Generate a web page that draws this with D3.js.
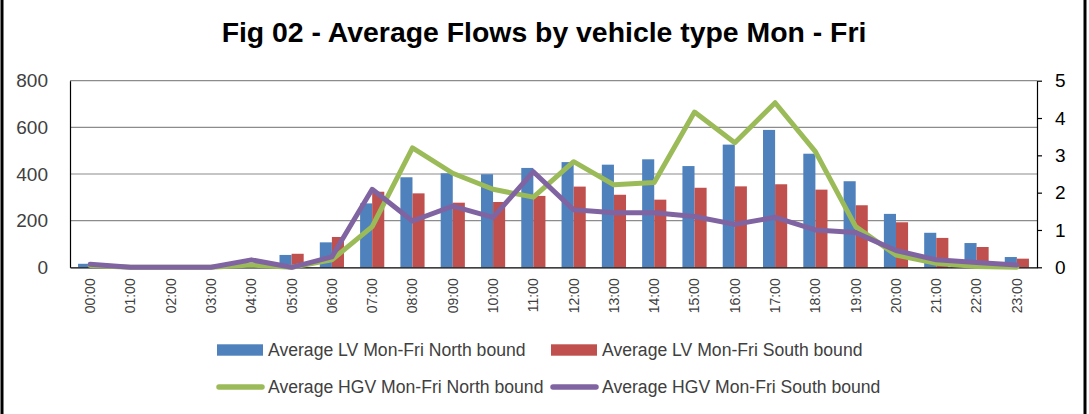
<!DOCTYPE html>
<html>
<head>
<meta charset="utf-8">
<script src="https://cdn.jsdelivr.net/npm/d3@7"></script>
<style>
  body { margin: 0; background: #fff; }
  svg { display: block; }
</style>
</head>
<body>
<div id="chart"></div>
<script>
// chart data
var hours = ["00:00","01:00","02:00","03:00","04:00","05:00","06:00","07:00","08:00","09:00","10:00","11:00",
             "12:00","13:00","14:00","15:00","16:00","17:00","18:00","19:00","20:00","21:00","22:00","23:00"];
var lvNorth = [15, 0, 0, 0, 3, 53, 107, 274, 386, 403, 399, 426, 451, 440, 463, 434, 526, 589, 487, 369, 229, 148, 104, 44];
var lvSouth = [4, 0, 0, 0, 2, 58, 130, 324, 317, 277, 280, 306, 346, 311, 290, 341, 347, 356, 333, 266, 193, 126, 87, 37];
var hgvNorth = [0.05, 0, 0, 0, 0.06, 0, 0.2, 1.09, 3.2, 2.52, 2.09, 1.88, 2.83, 2.21, 2.27, 4.16, 3.34, 4.41, 3.1, 1.09, 0.33, 0.11, 0.02, 0];
var hgvSouth = [0.08, 0, 0, 0, 0.2, 0, 0.28, 2.09, 1.24, 1.64, 1.34, 2.56, 1.54, 1.46, 1.46, 1.36, 1.15, 1.34, 1.0, 0.93, 0.45, 0.2, 0.13, 0.06];
var leftTicks = [0, 200, 400, 600, 800];
var rightTicks = [0, 1, 2, 3, 4, 5];
var seriesNames = ["Average LV Mon-Fri North bound", "Average LV Mon-Fri South bound",
                   "Average HGV Mon-Fri North bound", "Average HGV Mon-Fri South bound"];

var W = 1089, H = 414;
var plot = {left: 70, right: 1037, top: 80.7, bottom: 267.3};
var colors = ["#4F81BD", "#C0504D", "#9BBB59", "#8064A2"];
var font = "'Liberation Sans', Arial, sans-serif";
var textGrey = "#404040";

var svg = d3.select("#chart").append("svg")
    .attr("width", W)
    .attr("height", H);

// frame (only the side edges show in the picture)
svg.append("line").attr("x1", 2).attr("x2", 2).attr("y1", 0).attr("y2", H)
    .attr("stroke", "#000").attr("stroke-width", 3);
svg.append("line").attr("x1", 1085).attr("x2", 1085).attr("y1", 0).attr("y2", H)
    .attr("stroke", "#000").attr("stroke-width", 3);

// title
svg.append("text")
    .attr("x", 544)
    .attr("y", 42)
    .attr("text-anchor", "middle")
    .attr("font-family", font)
    .attr("font-weight", "bold")
    .attr("font-size", "28.4px")
    .attr("fill", "#000")
    .text("Fig 02 - Average Flows by vehicle type Mon - Fri");

// --- SCALES ---
var xScale = d3.scaleBand()
    .domain(hours)
    .range([plot.left, plot.right])
    .paddingInner(0.4)
    .paddingOuter(0.2);
var xInner = d3.scaleBand()
    .domain([0, 1])
    .range([0, xScale.bandwidth()]);
var yLeft = d3.scaleLinear().domain([0, 800]).range([plot.bottom, plot.top]);
var yRight = d3.scaleLinear().domain([0, 5]).range([plot.bottom, plot.top]);

// gridlines
svg.append("g")
    .selectAll("line")
    .data(leftTicks.filter(function(d){ return d > 0; }))
    .enter()
    .append("line")
    .attr("x1", plot.left)
    .attr("x2", plot.right)
    .attr("y1", function(d){ return yLeft(d); })
    .attr("y2", function(d){ return yLeft(d); })
    .attr("stroke", "#8c8c8c")
    .attr("stroke-width", 1.2);

// --- BARS ---
var bars = svg.append("g").attr("id", "bars");
[lvNorth, lvSouth].forEach(function(values, s){
    bars.append("g")
        .selectAll("rect")
        .data(values)
        .enter()
        .append("rect")
        .attr("x", function(d, i){ return xScale(hours[i]) + xInner(s); })
        .attr("width", xInner.bandwidth())
        .attr("y", function(d){ return yLeft(d); })
        .attr("height", function(d){ return plot.bottom - yLeft(d); })
        .attr("fill", colors[s]);
});

// --- AXES ---
var xAxis = svg.append("g")
    .attr("transform", "translate(0," + plot.bottom + ")")
    .call(d3.axisBottom(xScale).tickSize(0).tickPadding(0).tickSizeOuter(0));
xAxis.select(".domain").attr("stroke", "#000").attr("stroke-width", 1.2);
xAxis.selectAll("text")
    .attr("transform", "rotate(-90)")
    .attr("text-anchor", "end")
    .attr("x", -11)
    .attr("y", 0)
    .attr("dy", "0.35em")
    .attr("font-family", font)
    .attr("font-size", "14px")
    .attr("fill", textGrey);

var leftAxis = svg.append("g")
    .attr("transform", "translate(" + plot.left + ",0)")
    .call(d3.axisLeft(yLeft).tickValues(leftTicks).tickSize(0).tickPadding(22).tickSizeOuter(0));
leftAxis.select(".domain").attr("stroke", "#000").attr("stroke-width", 1.2);
leftAxis.selectAll("text")
    .attr("font-family", font)
    .attr("font-size", "19px")
    .attr("fill", textGrey);

var rightAxis = svg.append("g")
    .attr("transform", "translate(" + plot.right + ",0)")
    .call(d3.axisRight(yRight).tickValues(rightTicks).tickFormat(d3.format("d"))
        .tickSize(5).tickPadding(13).tickSizeOuter(0));
rightAxis.select(".domain").attr("stroke", "#000").attr("stroke-width", 1.2);
rightAxis.selectAll("line").attr("stroke", "#000").attr("stroke-width", 1.2);
rightAxis.selectAll("text")
    .attr("font-family", font)
    .attr("font-size", "19px")
    .attr("fill", "#000");

// --- LINES ---
var lineGen = d3.line()
    .x(function(d, i){ return xScale(hours[i]) + xScale.bandwidth() / 2; })
    .y(function(d){ return yRight(d); });
[hgvNorth, hgvSouth].forEach(function(values, s){
    svg.append("path")
        .datum(values)
        .attr("fill", "none")
        .attr("stroke", colors[s + 2])
        .attr("stroke-width", 5)
        .attr("stroke-linejoin", "round")
        .attr("stroke-linecap", "round")
        .attr("d", lineGen);
});

// --- LEGEND ---
var legendPos = [[217, 350], [551, 350], [217, 387], [551, 387]];
var legend = svg.append("g").attr("id", "legend");
seriesNames.forEach(function(name, i){
    var p = legendPos[i];
    if (i < 2) {
        legend.append("rect")
            .attr("x", p[0]).attr("y", p[1] - 5.7)
            .attr("width", 46).attr("height", 11.4)
            .attr("fill", colors[i]);
    } else {
        legend.append("line")
            .attr("x1", p[0] + 2).attr("x2", p[0] + 45)
            .attr("y1", p[1]).attr("y2", p[1])
            .attr("stroke", colors[i])
            .attr("stroke-width", 5.5)
            .attr("stroke-linecap", "round");
    }
    legend.append("text")
        .attr("x", p[0] + 51)
        .attr("y", p[1])
        .attr("dy", "0.35em")
        .attr("font-family", font)
        .attr("font-size", "17.6px")
        .attr("fill", textGrey)
        .text(name);
});
</script>
</body>
</html>
